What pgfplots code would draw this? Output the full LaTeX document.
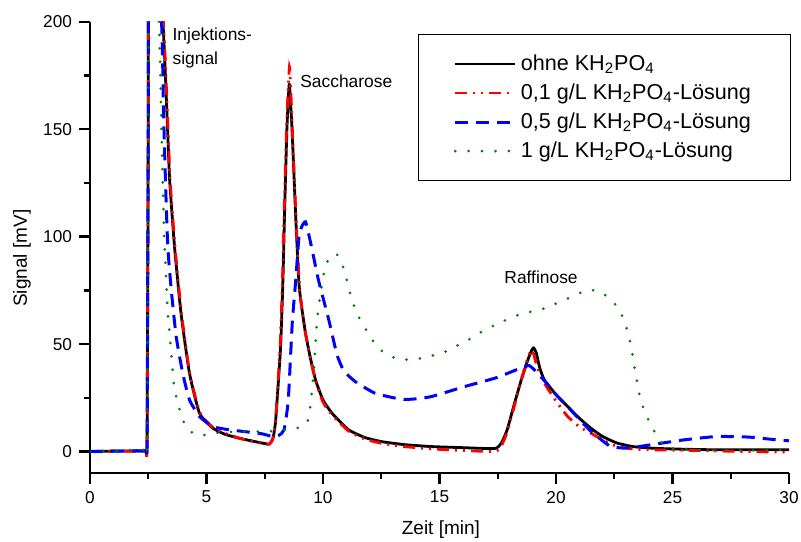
\documentclass[border=0pt]{standalone}
\usepackage{fontspec}
\setmainfont{Liberation Sans}
\usepackage{pgfplots}
\pgfplotsset{compat=1.18}
\definecolor{cgreen}{RGB}{0,128,0}
\begin{document}
\begin{tikzpicture}
\useasboundingbox (-45pt,-34pt) rectangle (355.5pt,236.5pt);
\begin{axis}[
  at={(0,0)}, anchor=south west,
  scale only axis, width=349.5pt, height=225.6pt,
  xmin=0, xmax=30, ymin=-10, ymax=200,
  axis x line*=bottom, axis y line*=left,
  axis line style={line width=1.2pt, black},
  every tick/.style={line width=1.2pt, black},
  tick align=outside,
  major tick length=5.5pt, minor tick length=3pt,
  xtick={0,5,...,30}, ytick={0,50,...,200},
  minor x tick num=1, minor y tick num=1,
  tick label style={font=\fontsize{8.6}{10}\selectfont},
  /pgf/number format/assume math mode=true,
  xlabel={Zeit [min]}, ylabel={Signal [mV]},
  label style={font=\fontsize{9.5}{11}\selectfont},
  x label style={at={(axis description cs:0.502,-0.126)}, anchor=center},
  y label style={at={(axis description cs:-0.0973,0.476)}, anchor=center},
  legend style={at={(1.003,0.973)}, anchor=north east, draw=black, line width=0.6pt,
    font=\fontsize{10.8}{12}\selectfont, inner xsep=17.8pt, inner ysep=8pt,
    row sep=1.2pt, cells={anchor=west}},
  legend cell align=left,
  legend image code/.code={\draw[#1] (0pt,0pt) -- (30pt,0pt);},
  every axis plot/.append style={smooth, tension=0.3},
]
\addplot[black, line width=1.4pt, line join=round] coordinates {
(0,0) (1,0.2) (2,0.3) (2.38,0.5) (2.45,5) (2.5,150) (2.55,300) (3.13,200) (3.33,150)
(3.42,126) (3.63,95) (3.91,64) (4.27,36.4) (4.7,17.8) (5.27,10.9) (5.8,8) (6.4,6.2)
(7.0,4.8) (7.4,3.9) (7.69,3.5) (7.85,6) (7.97,14.7) (8.18,48.8) (8.28,79.8) (8.35,110.8)
(8.45,150) (8.55,171) (8.62,160) (8.68,148) (8.83,109) (8.97,78) (9.1,66) (9.25,55)
(9.45,44) (9.68,33.3) (10.0,24) (10.39,17.8) (11.1,10.1) (11.8,6.5) (12.52,4.6)
(13.5,3.2) (14.66,2.3) (16,1.8) (17.37,1.4) (17.65,3.9) (17.9,10) (18.22,22.5)
(18.5,33) (18.79,42.6) (18.95,47) (19.04,48.3) (19.15,46) (19.3,39) (19.5,33.3)
(20.0,26.5) (20.5,20.9) (21.0,15.5) (21.49,10.9) (22.0,7) (22.63,3.9) (23.3,2.3)
(24.05,1.6) (25,1.2) (26.9,0.8) (30,0.8)
};
\addlegendentry{ohne KH\textsubscript{2}PO\textsubscript{4}}
\addplot[red, line width=1.4pt, dash pattern=on 6pt off 3pt on 1pt off 3pt on 1pt off 3pt] coordinates {
(0,0) (1,0) (2,0.2) (2.38,0.4) (2.45,5) (2.5,150) (2.55,300) (3.15,200) (3.35,150)
(3.44,126) (3.65,95) (3.93,64) (4.28,36.4) (4.72,18) (5.27,11.3) (5.8,8.5) (6.4,6.2)
(7.0,4.7) (7.4,3.7) (7.69,3.4) (7.85,6) (7.97,15) (8.16,48.8) (8.26,79.8) (8.33,110.8)
(8.45,155) (8.56,179) (8.63,165) (8.69,148) (8.84,109) (8.98,78) (9.1,66) (9.25,55)
(9.45,44) (9.68,33) (10.0,23) (10.39,17) (11.1,9.5) (11.8,5.8) (12.52,3.8) (13.5,2.3)
(14.66,1.2) (16,0.5) (17.37,0) (17.65,2.5) (17.9,9) (18.22,21.5) (18.5,33) (18.79,43.5)
(18.93,47.3) (19.05,45) (19.2,39) (19.5,31.8) (20.0,23.5) (20.5,16.3) (21.0,11.5)
(21.5,8.5) (22.0,5.5) (22.63,2.3) (23.3,1.2) (24,0.8) (26,0.5) (28,0) (30,-0.3)
};
\addlegendentry{0,1 g/L KH\textsubscript{2}PO\textsubscript{4}-Lösung}
\addplot[blue, line width=1.5pt, dash pattern=on 6.5pt off 4pt] coordinates {
(0,0) (1,0.2) (2,0.3) (2.38,0.5) (2.45,5) (2.5,150) (2.55,300) (3.07,200) (3.15,160)
(3.25,122) (3.34,95) (3.49,75) (3.70,53.4) (3.98,36.4) (4.27,24) (4.70,16.3) (5.27,11.6)
(5.98,10.1) (6.7,9.2) (7.40,8.2) (7.83,7) (8.1,7.5) (8.33,10.1) (8.51,24) (8.68,59.7)
(8.83,79.8) (8.97,100) (9.1,105) (9.25,106.9) (9.39,101) (9.55,93) (9.8,80)
(10.25,61.2) (10.6,45) (10.9,37.5) (11.39,32.5) (12.24,27.1) (13.38,24.3) (14.1,24.6) (14.66,25.6)
(15.5,28.3) (16.1,30.3) (16.94,32.8) (17.51,34.6) (18.36,38.3) (18.85,40) (19.21,36.4)
(19.5,33) (20.0,26.5) (20.5,20.9) (21.0,15) (21.49,9.5) (22.0,5) (22.35,2.3) (22.9,1.6)
(23.5,2.2) (24.05,3.1) (25.48,5.4) (26.9,7) (28.3,6.7) (29.5,5.4) (30,5)
};
\addlegendentry{0,5 g/L KH\textsubscript{2}PO\textsubscript{4}-Lösung}
\addplot[cgreen, line width=1.5pt, line cap=round, dash pattern=on 0pt off 6.7pt] coordinates {
(0,0) (0.5,0.3) (1,0) (1.5,0.8) (2,0.5) (2.38,1) (2.45,5) (2.5,150) (2.55,300) (2.96,200)
(3.05,160) (3.13,123) (3.2,95.3) (3.34,64.3) (3.49,45.7) (3.63,28.7) (3.98,14.7) (4.3,9.5)
(4.70,7.3) (5.27,8.5) (6.4,9.3) (7.55,9.3) (8.4,10.1) (8.9,10.9) (9.32,13.2) (9.47,22.5)
(9.61,38) (9.75,61.2) (9.89,73.6) (10.1,86) (10.3,90.5) (10.6,91.8) (10.89,85)
(11.24,70.5) (11.6,61.2) (12.38,48) (13.24,42.9) (14.1,43.2) (15.09,45.7) (15.51,48)
(16.23,51.9) (16.94,56.6) (17.22,58.1) (18.36,63.5) (19.5,66.6) (20.35,70.5) (21.35,75.1)
(21.92,74.3) (22.3,71) (22.63,67.4) (22.92,61.2) (23.2,50.4) (23.41,36.4) (23.63,24)
(23.91,16) (24.12,11.6) (24.34,7) (24.62,3.1) (25,1.5) (26,0.8) (28,0.5) (30,0.8)
};
\addlegendentry{1 g/L KH\textsubscript{2}PO\textsubscript{4}-Lösung}
\node[anchor=north west, align=left, inner sep=0pt, font=\fontsize{8.7}{12}\selectfont] at (axis cs:3.53,197.5) {Injektions-\\signal};
\node[anchor=west, inner sep=0pt, font=\fontsize{8.7}{10}\selectfont] at (axis cs:9.01,172.4) {Saccharose};
\node[anchor=west, inner sep=0pt, font=\fontsize{8.7}{10}\selectfont] at (axis cs:17.77,80.9) {Raffinose};
\end{axis}
\end{tikzpicture}
\end{document}
